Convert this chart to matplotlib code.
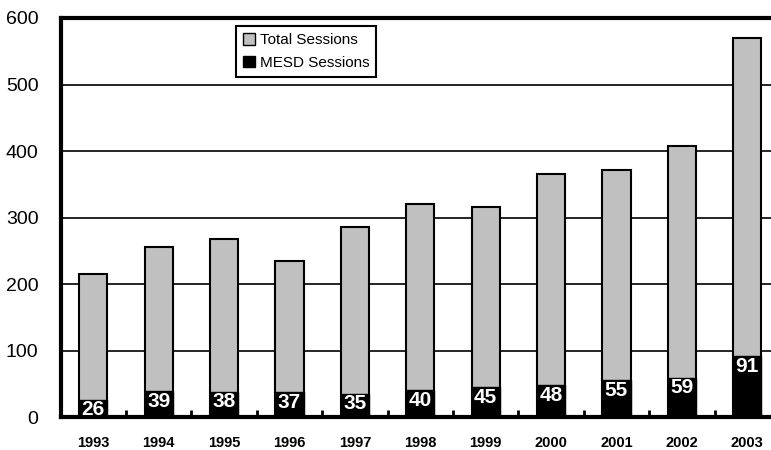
import matplotlib
matplotlib.use("Agg")
import matplotlib.pyplot as plt
import numpy as np

years = ["1993", "1994", "1995", "1996", "1997", "1998", "1999", "2000", "2001", "2002", "2003"]
total_sessions = [215, 255, 267, 234, 285, 321, 316, 366, 372, 408, 570]
mesd_sessions = [26, 39, 38, 37, 35, 40, 45, 48, 55, 59, 91]
y_ticks = [0, 100, 200, 300, 400, 500, 600]

plt.rcParams["font.family"] = ["Liberation Sans", "DejaVu Sans"]

fig = plt.figure(figsize=(7.71, 4.5), dpi=100)
ax = fig.add_axes([0.0786, 0.0733, 0.933, 0.8867])

x = np.arange(len(years))
width = 0.43

ax.bar(x, total_sessions, width, color="#c0c0c0", edgecolor="black", linewidth=1.5,
       label="Total Sessions", zorder=3)
ax.bar(x, mesd_sessions, width, color="black", edgecolor="black", linewidth=1.0,
       label="MESD Sessions", zorder=4)

# white counts inside the black segments
for xi, v in zip(x, mesd_sessions):
    ax.text(xi, v - 1, str(v), ha="center", va="top", color="white",
            fontsize=15, fontweight="bold", zorder=5)

ax.set_xlim(-0.5, len(years) - 0.5)
ax.set_ylim(0, 600)
ax.set_yticks(y_ticks)
ax.set_yticklabels([str(t) for t in y_ticks], fontsize=14)
ax.tick_params(axis="y", length=0, pad=16)
ax.set_xticks(x)
ax.set_xticklabels(years, fontsize=10.5, fontweight="bold")
ax.tick_params(axis="x", which="major", length=0, pad=14)
ax.set_xticks(x[:-1] + 0.5, minor=True)
ax.tick_params(axis="x", which="minor", direction="in", length=5, width=2)

ax.yaxis.grid(True, color="black", linewidth=1.2, zorder=0)
ax.set_axisbelow(True)

for side in ["left", "bottom", "top"]:
    ax.spines[side].set_linewidth(3)
ax.spines["right"].set_visible(False)

leg = ax.legend(loc="upper left", bbox_to_anchor=(0.306, 0.942),
                bbox_transform=fig.transFigure, fontsize=11, fancybox=False,
                framealpha=1, edgecolor="black", handlelength=0.8,
                handleheight=0.8, handletextpad=0.3, borderpad=0.45,
                labelspacing=0.55, borderaxespad=0)
leg.get_frame().set_linewidth(1.5)
leg.legend_handles[0].set_linewidth(1.0)

fig.savefig("out.png", dpi=100)
